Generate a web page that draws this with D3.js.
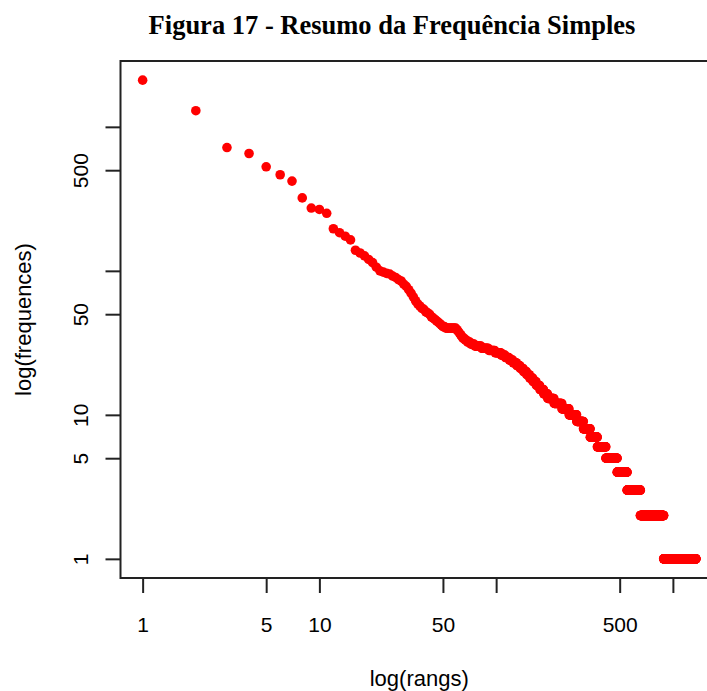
<!DOCTYPE html>
<html>
<head>
<meta charset="utf-8">
<script src="https://cdn.jsdelivr.net/npm/d3@7"></script>
<style>
  body { margin: 0; background: #fff; }
  svg { display: block; }
</style>
</head>
<body>
<div id="chart"></div>
<script>
// frequencies of the first 51 ranks, read one by one
const headFreqs = [2110, 1294, 718, 653, 528, 465, 420, 321, 273, 267,
  251, 196, 184, 174, 164, 139, 133, 127, 120, 114,
  106, 100, 98, 96, 95, 92, 90, 87, 85, 81,
  78, 74, 70, 66, 62, 59, 57, 55, 54, 52,
  51, 50, 48, 47, 46, 45, 44, 43, 42, 41, 41];

// after that: how many words share each frequency
const tailFreqs = [40, 39, 38, 37, 36, 35, 34, 33, 32, 31, 30, 29, 28, 27, 26, 25, 24, 23, 22, 21,
  20, 19, 18, 17, 16, 15, 14, 13, 12, 11, 10, 9, 8, 7, 6, 5, 4, 3, 2, 1];
const tailCounts = [8, 1, 1, 1, 1, 1, 2, 2, 3, 4, 7, 8, 8, 8, 6, 6, 6, 6, 6, 6,
  6, 6, 7, 7, 8, 9, 10, 17, 23, 23, 27, 26, 29, 33, 44, 66, 67, 104, 232, 463];

const tickValues = [1, 5, 10, 50, 100, 500, 1000];
const tickLabels = [1, 5, 10, 50, 500];

const title = "Figura 17 - Resumo da Frequência Simples";
const xTitle = "log(rangs)";
const yTitle = "log(frequences)";

// rank / frequency table
const data = [];
headFreqs.forEach(f => data.push({ rank: data.length + 1, freq: f }));
tailFreqs.forEach((f, i) => {
  for (let k = 0; k < tailCounts[i]; k++) data.push({ rank: data.length + 1, freq: f });
});

const width = 707, height = 691;
const box = { left: 120.5, right: 718, top: 61, bottom: 578 };

// R style 4% padding on the log range
function padded(ext) {
  const a = Math.log10(ext[0]), b = Math.log10(ext[1]), d = (b - a) * 0.04;
  return [Math.pow(10, a - d), Math.pow(10, b + d)];
}

const x = d3.scaleLog()
  .domain(padded(d3.extent(data, d => d.rank)))
  .range([box.left, box.right]);
const y = d3.scaleLog()
  .domain(padded(d3.extent(data, d => d.freq)))
  .range([box.bottom, box.top]);

const svg = d3.select("#chart")
  .append("svg")
  .attr("width", width)
  .attr("height", height);

svg.append("rect").attr("width", width).attr("height", height).attr("fill", "#fff");

svg.append("text")
  .attr("x", 392)
  .attr("y", 34)
  .attr("text-anchor", "middle")
  .attr("font-family", "'Liberation Serif', 'Times New Roman', serif")
  .attr("font-weight", "bold")
  .attr("font-size", 26.5)
  .text(title);

// points
svg.append("g")
  .attr("fill", "#ff0000")
  .selectAll("circle")
  .data(data)
  .join("circle")
  .attr("cx", d => x(d.rank))
  .attr("cy", d => y(d.freq))
  .attr("r", 4.8);

// box
svg.append("rect")
  .attr("x", box.left)
  .attr("y", box.top)
  .attr("width", box.right - box.left)
  .attr("height", box.bottom - box.top)
  .attr("fill", "none")
  .attr("stroke", "#222")
  .attr("stroke-width", 2);

const font = "'Liberation Sans', Arial, sans-serif";

// x axis
const xAxis = svg.append("g")
  .attr("transform", `translate(0,${box.bottom})`)
  .call(d3.axisBottom(x).tickValues(tickValues).tickSize(15).tickFormat(d => tickLabels.includes(d) ? d : ""));
xAxis.select(".domain").remove();
xAxis.selectAll(".tick line").attr("stroke", "#222").attr("stroke-width", 2);
xAxis.selectAll(".tick text")
  .attr("font-family", font)
  .attr("font-size", 21)
  .attr("fill", "#000")
  .attr("dy", null)
  .attr("y", 54);

// y axis
const yAxis = svg.append("g")
  .attr("transform", `translate(${box.left},0)`)
  .call(d3.axisLeft(y).tickValues(tickValues).tickSize(15).tickFormat(d => tickLabels.includes(d) ? d : ""));
yAxis.select(".domain").remove();
yAxis.selectAll(".tick line").attr("stroke", "#222").attr("stroke-width", 2);
yAxis.selectAll(".tick text")
  .attr("font-family", font)
  .attr("font-size", 21)
  .attr("fill", "#000")
  .attr("x", null)
  .attr("dy", null)
  .attr("text-anchor", "middle")
  .attr("transform", "translate(-33,0) rotate(-90)");

svg.append("text")
  .attr("x", (box.left + box.right) / 2)
  .attr("y", 686)
  .attr("text-anchor", "middle")
  .attr("font-family", font)
  .attr("font-size", 22)
  .text(xTitle);

svg.append("text")
  .attr("transform", `translate(31,${(box.top + box.bottom) / 2}) rotate(-90)`)
  .attr("text-anchor", "middle")
  .attr("font-family", font)
  .attr("font-size", 22)
  .text(yTitle);
</script>
</body>
</html>
